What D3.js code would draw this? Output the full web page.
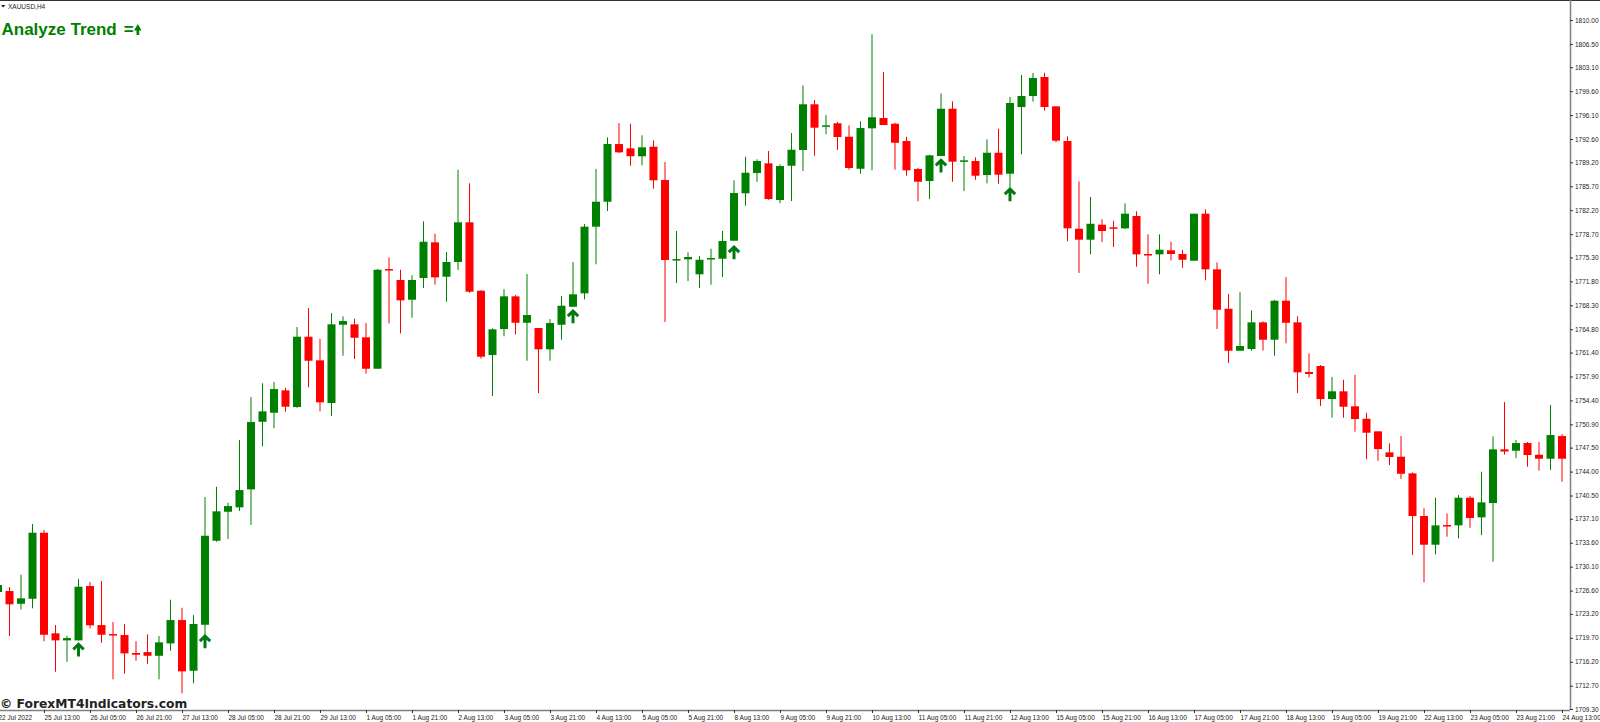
<!DOCTYPE html>
<html>
<head>
<meta charset="utf-8">
<title>XAUUSD,H4</title>
<script src="https://cdn.jsdelivr.net/npm/d3@7"></script>
<style>
    html, body { margin: 0; padding: 0; background: #fff; overflow: hidden; }
    svg { display: block; }
    .tick text { font-family: "Liberation Sans", sans-serif; font-size: 6.5px; fill: #222; }
</style>
</head>
<body>
<div id="chart"></div>
<script>
const symbol = "XAUUSD,H4";
const title = "Analyze Trend";
const watermark = "ForexMT4Indicators.com";

const opens = [
    1726.39,1726.54,1724.68,1725.41,1735.06,1720.36,1719.33,1719.33,1727.27,1721.57,
    1720.25,1720.11,1717.48,1717.62,1717.08,1718.89,1722.30,1714.89,1721.61,1733.89,
    1738.13,1738.77,1741.40,1751.28,1752.60,1755.87,1753.43,1763.71,1760.26,1754.02,
    1765.46,1765.52,1763.62,1759.03,1773.60,1772.00,1769.12,1772.29,1777.51,1772.48,
    1774.63,1780.43,1770.43,1761.03,1764.83,1769.61,1765.75,1764.98,1761.87,1765.46,
    1768.09,1770.05,1779.79,1783.44,1791.87,1791.24,1790.08,1791.48,1786.61,1774.92,
    1775.02,1772.83,1775.02,1775.11,1777.74,1784.67,1787.63,1789.05,1783.69,1788.70,
    1791.00,1797.68,1794.40,1794.90,1792.94,1788.26,1794.17,1795.67,1794.84,1792.31,
    1788.22,1786.47,1790.12,1797.03,1789.29,1789.39,1787.34,1790.60,1787.53,1797.28,
    1798.89,1801.67,1797.38,1792.31,1779.49,1777.89,1780.08,1779.70,1779.55,1781.35,
    1775.80,1775.75,1776.34,1775.80,1774.82,1781.69,1773.56,1767.80,1761.66,1761.91,
    1765.81,1763.27,1768.97,1765.81,1758.55,1759.43,1754.60,1755.73,1753.54,1751.72,
    1749.88,1746.81,1746.17,1743.74,1737.50,1733.31,1736.19,1736.14,1740.18,1737.31,
    1739.40,1747.25,1747.05,1748.17,1746.46,1745.88,1749.19
];
const highs = [
    1727.71,1727.12,1728.92,1736.33,1735.46,1721.57,1720.01,1728.29,1727.85,1728.00,
    1722.01,1721.72,1719.19,1720.21,1719.96,1725.27,1724.10,1723.03,1740.28,1741.78,
    1739.45,1748.61,1754.89,1756.90,1757.09,1756.25,1765.13,1767.90,1763.42,1767.17,
    1766.69,1766.34,1765.71,1773.60,1775.31,1773.50,1772.68,1780.57,1778.76,1776.09,
    1788.12,1786.13,1770.53,1764.94,1770.64,1769.80,1772.87,1764.98,1766.29,1769.66,
    1774.63,1780.18,1788.22,1792.85,1794.94,1794.84,1793.14,1792.41,1789.24,1779.16,
    1776.04,1775.50,1776.57,1779.16,1786.57,1790.02,1789.64,1790.85,1788.91,1793.48,
    1800.45,1798.30,1796.11,1795.09,1794.61,1795.19,1807.91,1802.40,1794.99,1792.94,
    1788.37,1790.31,1799.28,1798.11,1790.12,1789.93,1792.56,1794.11,1798.74,1801.96,
    1802.25,1802.29,1797.38,1793.00,1786.42,1784.13,1780.87,1780.66,1783.21,1782.04,
    1778.67,1778.67,1777.59,1776.42,1781.69,1782.33,1774.58,1769.95,1770.24,1767.57,
    1765.96,1769.07,1772.43,1766.69,1761.28,1759.57,1757.82,1757.42,1758.15,1752.60,
    1749.88,1748.13,1749.19,1743.89,1738.63,1740.18,1737.90,1740.57,1740.43,1743.98,
    1749.15,1754.16,1748.61,1748.32,1748.32,1753.73,1749.49
];
const lows = [
    1726.39,1719.96,1723.86,1724.01,1719.19,1714.74,1716.21,1719.33,1721.09,1718.98,
    1713.63,1714.45,1716.35,1715.91,1713.63,1717.81,1711.59,1713.05,1719.38,1733.75,
    1734.14,1738.23,1736.19,1747.69,1750.32,1752.75,1753.33,1756.31,1752.80,1752.12,
    1760.93,1760.45,1758.30,1759.03,1765.67,1764.20,1766.48,1770.83,1771.31,1768.82,
    1773.46,1770.14,1760.49,1755.04,1763.77,1764.06,1760.20,1755.48,1760.20,1763.27,
    1768.09,1769.17,1774.29,1782.08,1790.56,1788.70,1788.76,1785.34,1765.86,1771.56,
    1771.85,1770.83,1771.31,1772.43,1777.74,1782.86,1786.36,1783.73,1783.21,1783.54,
    1787.93,1790.16,1793.29,1791.00,1788.12,1787.53,1788.03,1794.65,1788.12,1787.24,
    1783.50,1783.83,1790.12,1786.36,1785.00,1786.65,1786.13,1786.07,1785.49,1790.37,
    1798.06,1796.74,1792.12,1777.65,1773.02,1775.75,1777.55,1776.82,1779.45,1773.94,
    1771.45,1772.83,1774.87,1773.79,1774.82,1771.95,1764.83,1759.86,1761.66,1761.66,
    1761.66,1760.93,1762.74,1755.48,1757.77,1753.58,1751.87,1751.87,1749.82,1745.79,
    1745.58,1744.96,1742.95,1731.80,1727.81,1731.90,1734.48,1734.24,1735.79,1734.72,
    1730.82,1746.49,1745.98,1744.71,1744.12,1744.22,1742.51
];
const closes = [
    1727.42,1724.60,1725.47,1735.06,1720.15,1719.33,1719.67,1727.17,1721.53,1720.15,
    1720.15,1717.43,1717.23,1717.08,1719.04,1722.30,1714.80,1721.72,1734.62,1738.19,
    1738.96,1741.30,1751.24,1752.80,1756.06,1753.48,1763.71,1760.20,1754.12,1765.52,
    1766.00,1763.56,1759.03,1773.50,1773.50,1769.03,1772.00,1777.59,1772.39,1774.63,
    1780.43,1770.29,1760.79,1764.79,1769.61,1765.75,1766.88,1761.87,1765.71,1768.24,
    1769.91,1779.79,1783.44,1791.87,1790.66,1790.08,1791.39,1786.57,1774.92,1775.06,
    1775.36,1774.96,1775.21,1777.70,1784.71,1787.68,1789.39,1783.83,1788.66,1791.04,
    1797.68,1794.26,1794.61,1792.90,1788.37,1794.21,1795.78,1794.65,1792.06,1788.03,
    1786.36,1790.22,1797.03,1789.29,1789.49,1787.24,1790.60,1787.39,1797.87,1798.89,
    1801.52,1797.28,1792.36,1779.55,1777.89,1780.22,1779.16,1779.55,1781.69,1775.75,
    1775.69,1776.42,1775.80,1774.96,1781.69,1773.56,1767.65,1761.66,1762.35,1765.81,
    1763.27,1768.97,1765.75,1758.50,1758.26,1754.60,1755.73,1753.48,1751.68,1749.68,
    1747.29,1746.13,1743.68,1737.50,1733.31,1736.14,1736.04,1740.18,1737.21,1739.50,
    1747.25,1746.93,1748.17,1746.42,1745.88,1749.34,1745.88
];

// bars where the indicator printed an up arrow, and the price of the arrow tip
const arrowBars = [7, 18, 50, 64, 82, 88];
const arrowPrices = [1718.94, 1720.15, 1767.65, 1777.01, 1789.68, 1785.49];

const priceTicks = [
    1810.00,1806.50,1803.10,1799.60,1796.10,1792.60,1789.20,1785.70,1782.20,1778.70,
    1775.30,1771.80,1768.30,1764.80,1761.40,1757.90,1754.40,1750.90,1747.50,1744.00,
    1740.50,1737.10,1733.60,1730.10,1726.60,1723.20,1719.70,1716.20,1712.70,1709.30
];
const timeLabels = [
    "22 Jul 2022","25 Jul 13:00","26 Jul 05:00","26 Jul 21:00","27 Jul 13:00","28 Jul 05:00","28 Jul 21:00",
    "29 Jul 13:00","1 Aug 05:00","1 Aug 21:00","2 Aug 13:00","3 Aug 05:00","3 Aug 21:00","4 Aug 13:00",
    "5 Aug 05:00","5 Aug 21:00","8 Aug 13:00","9 Aug 05:00","9 Aug 21:00","10 Aug 13:00","11 Aug 05:00",
    "11 Aug 21:00","12 Aug 13:00","15 Aug 05:00","15 Aug 21:00","16 Aug 13:00","17 Aug 05:00","17 Aug 21:00",
    "18 Aug 13:00","19 Aug 05:00","19 Aug 21:00","22 Aug 13:00","23 Aug 05:00","23 Aug 21:00","24 Aug 13:00"
];

const UP = "#008000";
const DOWN = "#ff0000";
const BARS_PER_LABEL = 4;

const width = 1600, height = 722;
const axisX = 1570, axisY = 710;
const bodyWidth = 8;

const svg = d3.select("#chart")
    .append("svg")
    .attr("width", width)
    .attr("height", height)
    .style("background", "#fff");

const bars = d3.range(opens.length);
const xScale = d3.scaleLinear().domain([0, bars.length - 1]).range([-2, 1562]);
const yScale = d3.scaleLinear().domain([1810, 1709.3]).range([20, 709]);

function barColor(i) {
    return closes[i] >= opens[i] ? UP : DOWN;
}

// wicks first, the bodies go on top of them
svg.append("g")
    .selectAll("line")
    .data(bars)
    .enter()
    .append("line")
    .attr("x1", d => xScale(d))
    .attr("x2", d => xScale(d))
    .attr("y1", d => yScale(highs[d]))
    .attr("y2", d => yScale(lows[d]))
    .attr("stroke", barColor)
    .attr("stroke-width", 1);

svg.append("g")
    .selectAll("rect")
    .data(bars)
    .enter()
    .append("rect")
    .attr("x", d => xScale(d) - bodyWidth / 2)
    .attr("y", d => yScale(Math.max(opens[d], closes[d])))
    .attr("width", bodyWidth)
    .attr("height", d => Math.max(1.5, Math.abs(yScale(opens[d]) - yScale(closes[d]))))
    .attr("fill", barColor);

// up arrows under the signal bars
svg.append("g")
    .selectAll("path")
    .data(arrowBars)
    .enter()
    .append("path")
    .attr("transform", (d, i) => "translate(" + xScale(d) + "," + yScale(arrowPrices[i]) + ")")
    .attr("d", "M-5.2,6.4 L0,1.4 L5.2,6.4 M0,1.4 V13.5")
    .attr("fill", "none")
    .attr("stroke", "#007a10")
    .attr("stroke-width", 3);

// frame of the MT4 window
svg.append("line")
    .attr("x1", 0).attr("x2", width).attr("y1", 0.5).attr("y2", 0.5)
    .attr("stroke", "#333");

// axes
const yAxis = d3.axisRight(yScale)
    .tickValues(priceTicks)
    .tickFormat(d3.format(".2f"))
    .tickSize(3)
    .tickPadding(2);

const yg = svg.append("g")
    .attr("transform", "translate(" + axisX + ",0)")
    .call(yAxis);
yg.select(".domain").attr("d", "M0.5,0V" + axisY).attr("stroke", "#808080").attr("stroke-width", 1.5);
yg.selectAll(".tick line").attr("stroke", "#333");

const xAxis = d3.axisBottom(xScale)
    .tickValues(timeLabels.map((d, i) => i * BARS_PER_LABEL))
    .tickFormat((d, i) => timeLabels[i])
    .tickSize(3)
    .tickPadding(2);

const xg = svg.append("g")
    .attr("transform", "translate(0," + axisY + ")")
    .call(xAxis);
xg.select(".domain").attr("d", "M0,0.5H" + axisX).attr("stroke", "#808080").attr("stroke-width", 1.5);
xg.selectAll(".tick line").attr("stroke", "#333");
xg.selectAll(".tick text").attr("text-anchor", "start");

// symbol label with its little drop down triangle
svg.append("path")
    .attr("d", "M1,5 H5.5 L3.2,7.4 Z")
    .attr("fill", "#222");
svg.append("text")
    .attr("x", 8)
    .attr("y", 8.5)
    .style("font-family", "'Liberation Sans', sans-serif")
    .style("font-size", "6.5px")
    .style("fill", "#222")
    .text(symbol);

// indicator title, the arrow after it is drawn
const titleText = svg.append("text")
    .attr("x", 1.5)
    .attr("y", 35)
    .style("font-family", "'Liberation Sans', sans-serif")
    .style("font-weight", "bold")
    .style("font-size", "17px")
    .style("fill", "#008000")
    .text(title);
titleText.append("tspan")
    .attr("dx", 7)
    .text("=");
svg.append("path")
    .attr("d", "M137.8,24 L141.6,30.5 H139.2 V35 H136.5 V30.5 H134 Z")
    .attr("fill", "#008000");

svg.append("text")
    .attr("x", 0)
    .attr("y", 707.7)
    .style("font-family", "'DejaVu Sans', sans-serif")
    .style("font-weight", "bold")
    .style("font-size", "12.3px")
    .style("fill", "#222")
    .text("© " + watermark);
</script>
</body>
</html>
